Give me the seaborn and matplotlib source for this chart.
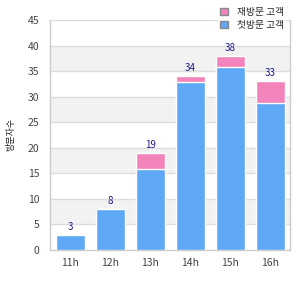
import pandas as pd
import matplotlib
matplotlib.use("Agg")
import matplotlib.pyplot as plt
import seaborn as sns

hours = ["11h", "12h", "13h", "14h", "15h", "16h"]
new_visits = [3, 8, 15.8, 32.9, 35.8, 28.8]
return_visits = [0, 0, 3.2, 1.1, 2.2, 4.2]
totals = [3, 8, 19, 34, 38, 33]

sns.set_style("white")
plt.rcParams["font.family"] = ["Noto Sans CJK KR", "DejaVu Sans"]

df = pd.DataFrame({"hour": hours, "new": new_visits, "ret": return_visits, "total": totals})
df["stack"] = df["new"] + df["ret"]

fig = plt.figure(figsize=(3, 3), dpi=100)
ax = fig.add_axes([0.168, 0.167, 0.799, 0.766])

# alternating background bands
for lo in [5, 15, 25, 35]:
    ax.axhspan(lo, lo + 5, color="#f2f2f2", zorder=0, lw=0)
for y in range(5, 50, 5):
    ax.axhline(y, color="#dcdcdc", lw=1, zorder=0.5)

sns.barplot(data=df, x="hour", y="stack", color="#f383bb", saturation=1,
            width=0.72, ax=ax, label="재방문 고객", zorder=2)
sns.barplot(data=df, x="hour", y="new", color="#5fa8f5", saturation=1,
            width=0.72, ax=ax, label="첫방문 고객", zorder=3)

for i, t in enumerate(totals):
    ax.text(i, df["stack"][i] + 0.6, str(t), ha="center", va="bottom",
            fontsize=7, color="#1a1a8c", zorder=4)

ax.set_xlim(-0.5, 5.5)
ax.set_ylim(0, 45)
ax.set_yticks(range(0, 50, 5))
ax.set_xlabel("")
ax.set_ylabel("방문자수", fontsize=6.5, color="#222222", labelpad=9)
ax.tick_params(axis="both", labelsize=7.5, colors="#444444", length=0)
ax.tick_params(axis="y", pad=8)
ax.tick_params(axis="x", pad=6)
for s in ["left", "bottom", "right"]:
    ax.spines[s].set_color("#cccccc")
    ax.spines[s].set_linewidth(1)
ax.spines["top"].set_visible(False)

leg = ax.legend(loc="upper right", bbox_to_anchor=(1.0, 1.085), frameon=True,
                fontsize=7, handlelength=0.8, handleheight=0.8,
                handletextpad=0.9, labelspacing=0.3, borderpad=0.15,
                edgecolor="white", fancybox=False, framealpha=1)
for h in leg.legend_handles:
    h.set_edgecolor("#888888")
    h.set_linewidth(1)
leg.set_zorder(10)

fig.savefig("out.png", dpi=100)
